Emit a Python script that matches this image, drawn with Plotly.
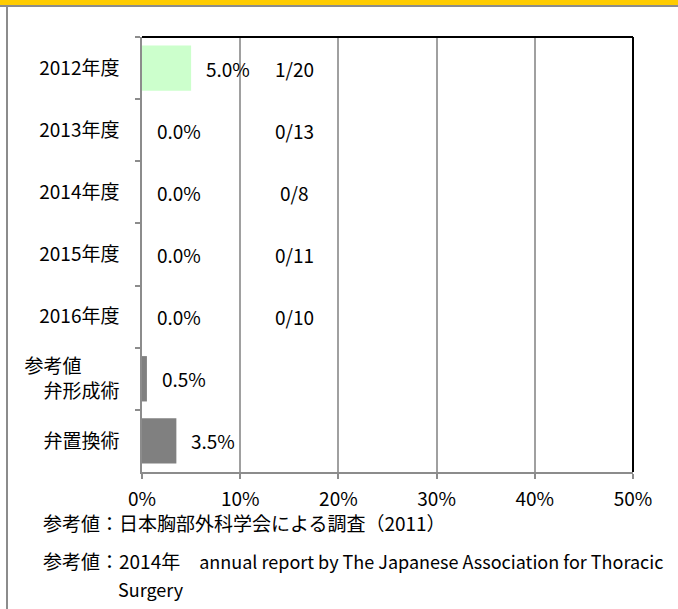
import plotly.graph_objects as go

# ---- data ----
categories = ["2012年度", "2013年度", "2014年度", "2015年度", "2016年度",
              "参考値　　<br>弁形成術", "弁置換術"]
values = [5.0, 0.0, 0.0, 0.0, 0.0, 0.5, 3.5]
fractions = ["1/20", "0/13", "0/8", "0/11", "0/10"]
x_ticks = [0, 10, 20, 30, 40, 50]
x_tick_labels = ["0%", "10%", "20%", "30%", "40%", "50%"]
note1 = "参考値：日本胸部外科学会による調査（2011）"
note2_jp = "参考値：2014年　"
note2_en = "annual report by The Japanese Association for Thoracic"
note3 = "Surgery"

# ---- style ----
W, H = 678, 609
L, R, T, B = 142, 633, 37, 472
FONT = "Noto Sans CJK JP, Noto Sans, sans-serif"
FS = 19
bar_colors = ["#ccffcc"] * 5 + ["#808080"] * 2
frac_x = 15.5


def px(xp):
    return (xp - L) / (R - L)


def py(yp):
    return (B - yp) / (B - T)


fig = go.Figure()
fig.add_trace(go.Bar(
    x=values, y=categories, orientation="h",
    marker=dict(color=bar_colors, line=dict(width=0)),
    hoverinfo="skip",
))

ann = []
for c, v in zip(categories, values):
    ann.append(dict(x=v, y=c, xref="x", yref="y", text=f"{v:.1f}%",
                    showarrow=False, xanchor="left", xshift=13,
                    font=dict(family=FONT, size=FS, color="#000")))
for c, f in zip(categories, fractions):
    ann.append(dict(x=frac_x, y=c, xref="x", yref="y", text=f,
                    showarrow=False, xanchor="center",
                    font=dict(family=FONT, size=FS, color="#000")))

notes = [note1,
         note2_jp + '<span style="font-size:18px">' + note2_en + '</span>',
         '<span style="font-size:18px">' + note3 + '</span>']
note_pos = [(41, 522), (41, 560), (116, 589)]
for t, (xx, yy) in zip(notes, note_pos):
    ann.append(dict(x=px(xx), y=py(yy), xref="paper", yref="paper", text=t,
                    showarrow=False, xanchor="left", yanchor="middle",
                    font=dict(family=FONT, size=FS, color="#000")))

shapes = [
    # frame decorations
    dict(type="rect", xref="paper", yref="paper", x0=px(0), x1=px(W),
         y0=py(0), y1=py(5), fillcolor="#ffcc00", line=dict(width=0), layer="above"),
    dict(type="line", xref="paper", yref="paper", x0=px(0), x1=px(W),
         y0=py(6), y1=py(6), line=dict(color="#8c8c8c", width=2)),
    dict(type="line", xref="paper", yref="paper", x0=px(7), x1=px(7),
         y0=py(6), y1=py(H), line=dict(color="#8c8c8c", width=2)),
    # black top and right border of plot area
    dict(type="line", xref="paper", yref="paper", x0=0, x1=1, y0=1, y1=1,
         line=dict(color="#000", width=2)),
    dict(type="line", xref="paper", yref="paper", x0=1, x1=1, y0=0, y1=1,
         line=dict(color="#000", width=2)),
]

fig.update_layout(
    width=W, height=H,
    margin=dict(l=L, r=W - R, t=T, b=H - B, pad=0),
    paper_bgcolor="white", plot_bgcolor="white",
    showlegend=False, bargap=0.27,
    font=dict(family=FONT, size=FS, color="#000"),
    annotations=ann, shapes=shapes,
    xaxis=dict(range=[0, 50], tickvals=x_ticks, ticktext=x_tick_labels,
               showgrid=True, gridcolor="#a0a0a0", gridwidth=1.5,
               showline=True, linecolor="#8c8c8c", linewidth=2,
               ticks="outside", ticklen=5, tickcolor="#8c8c8c", tickwidth=1.5,
               zeroline=False, ticklabelstandoff=4, fixedrange=True),
    yaxis=dict(autorange="reversed", type="category",
               showline=True, linecolor="#8c8c8c", linewidth=1.5,
               ticks="outside", ticklen=5, tickcolor="#8c8c8c", tickwidth=1.5,
               tickson="boundaries", showgrid=False,
               ticklabelstandoff=17, fixedrange=True),
)

fig.write_html("out.html", config={"displayModeBar": False},
               post_script="document.body.style.margin='0';")
